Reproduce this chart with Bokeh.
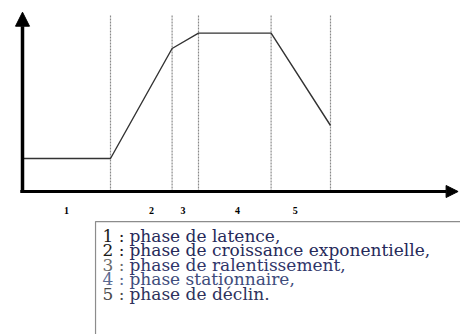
from bokeh.plotting import figure
from bokeh.models import Range1d, Arrow, NormalHead, ColumnDataSource
from bokeh.core.properties import value
from bokeh.embed import file_html
from bokeh.resources import INLINE
import numpy as np

# ---- data ----
time = [0, 4, 6.8, 8, 11.3, 14]
population = [3, 3, 13, 14.4, 14.4, 6]
boundaries = [4, 6.8, 8, 11.3, 14]
label_x = [2, 5.86, 7.3, 9.77, 12.4]
phase_labels = ["1", "2", "3", "4", "5"]
legend_numbers = ["1 :", "2 :", "3 :", "4 :", "5 :"]
legend_texts = [
    "phase de latence,",
    "phase de croissance exponentielle,",
    "phase de ralentissement,",
    "phase stationnaire,",
    "phase de déclin.",
]
num_colors = ["#1a1a1a", "#1a1a1a", "#6a6a6a", "#5a6a92", "#4a4a4a"]
txt_colors = ["#262a5a", "#262a5a", "#30366a", "#3e4c7c", "#2e325c"]

X_PX = 22.0
Y_PX = 11.0
W, H = 460, 334
x0_px, y0_px = 22, 191

p = figure(width=W, height=H, output_backend="svg", toolbar_location=None,
           x_range=Range1d(-x0_px / X_PX, (W - x0_px) / X_PX),
           y_range=Range1d(-(H - y0_px) / Y_PX, y0_px / Y_PX),
           x_axis_type=None, y_axis_type=None, min_border=0)
p.outline_line_color = None
p.grid.visible = False
p.background_fill_color = "white"

# dotted phase boundaries
top = 16.0
p.segment(x0=boundaries, y0=[0] * len(boundaries), x1=boundaries, y1=[top] * len(boundaries),
          line_color="#8a8a8a", line_width=1.2, line_dash="2 1")

# growth curve
p.line(time, population, line_color="#333333", line_width=1.4)

# axes as arrows
p.add_layout(Arrow(end=NormalHead(size=14, fill_color="black", line_color="black"),
                   x_start=0, y_start=-0.1, x_end=0, y_end=16.3,
                   line_color="black", line_width=3.5))
p.add_layout(Arrow(end=NormalHead(size=12, fill_color="black", line_color="black"),
                   x_start=-0.1, y_start=0, x_end=19.8, y_end=0,
                   line_color="black", line_width=3))

# phase numbers under the axis
p.text(x=label_x, y=[-1.75] * 5, text=phase_labels, text_align="center",
       text_baseline="middle", text_font=value("Liberation Serif"),
       text_font_size="10px", text_font_style="bold", text_color="black")

# legend box
p.quad(left=[3.32], right=[25], top=[-2.73], bottom=[-20],
       fill_color="white", line_color="#8c8c8c", line_width=1.2)

n = len(legend_texts)
ly = -4.0 - np.arange(n) * 14.5 / Y_PX
src = ColumnDataSource(dict(y=ly, num=legend_numbers, txt=legend_texts,
                            nc=num_colors, tc=txt_colors))
p.text(x=3.636, y="y", text="num", source=src, text_color="nc",
       text_font=value("DejaVu Serif"), text_font_size="17px", text_baseline="middle")
p.text(x=4.86, y="y", text="txt", source=src, text_color="tc",
       text_font=value("DejaVu Serif"), text_font_size="17px", text_baseline="middle")

open("out.html", "w").write(file_html(p, INLINE))
